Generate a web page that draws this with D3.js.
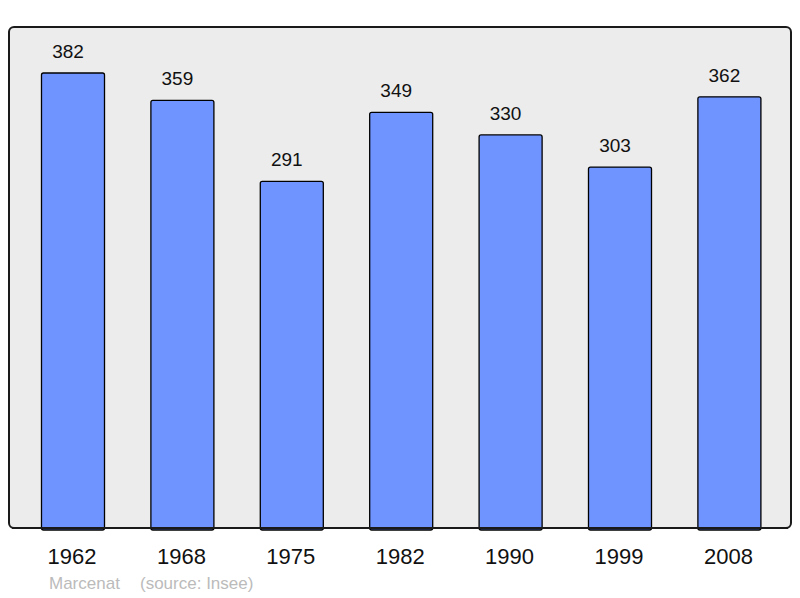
<!DOCTYPE html>
<html>
<head>
<meta charset="utf-8">
<script src="https://cdn.jsdelivr.net/npm/d3@7"></script>
<style>
  body { margin: 0; background: #fff; }
  text { font-family: "Liberation Sans", Arial, sans-serif; }
</style>
</head>
<body>
<script>
var years = ["1962", "1968", "1975", "1982", "1990", "1999", "2008"];
var population = [382, 359, 291, 349, 330, 303, 362];
var town = "Marcenat";
var source = "(source: Insee)";

var width = 800,
    height = 598;

var svg = d3.select("body").append("svg")
    .attr("width", width)
    .attr("height", height);

// panel
svg.append("rect")
    .attr("x", 9).attr("y", 27)
    .attr("width", 782).attr("height", 501)
    .attr("rx", 5)
    .attr("fill", "#ececec")
    .attr("stroke", "#1a1a1a")
    .attr("stroke-width", 2);

var x = d3.scaleBand()
    .domain(years)
    .range([18.3, 784.1])
    .paddingInner(0.424)
    .paddingOuter(0.212);

var y = d3.scaleLinear()
    .domain([0, 420.6])
    .range([528, 27]);

var data = years.map(function(d, i) { return {year: d, value: population[i]}; });

svg.append("g")
    .selectAll("rect")
    .data(data)
    .enter().append("rect")
    .attr("x", function(d) { return x(d.year); })
    .attr("y", function(d) { return y(d.value); })
    .attr("width", x.bandwidth())
    .attr("height", function(d) { return y(0) - y(d.value) + 2; })
    .attr("rx", 2)
    .attr("fill", "#7094ff")
    .attr("stroke", "#000")
    .attr("stroke-width", 1.3);

// redraw bottom border on top of bars
svg.append("line")
    .attr("x1", 12).attr("x2", 788)
    .attr("y1", 528).attr("y2", 528)
    .attr("stroke", "#1a1a1a")
    .attr("stroke-width", 2);

svg.append("g")
    .selectAll("text")
    .data(data)
    .enter().append("text")
    .attr("x", function(d) { return x(d.year) + x.bandwidth() / 2 - 5; })
    .attr("y", function(d) { return y(d.value) - 15; })
    .attr("text-anchor", "middle")
    .attr("font-size", 19)
    .attr("fill", "#111")
    .text(function(d) { return d.value; });

svg.append("g")
    .selectAll("text")
    .data(years)
    .enter().append("text")
    .attr("x", function(d) { return x(d) + x.bandwidth() / 2 - 1; })
    .attr("y", 564)
    .attr("text-anchor", "middle")
    .attr("font-size", 22)
    .attr("fill", "#111")
    .text(function(d) { return d; });

svg.append("text")
    .attr("x", 49).attr("y", 589)
    .attr("font-size", 17)
    .attr("fill", "#bbbbbb")
    .text(town);

svg.append("text")
    .attr("x", 140).attr("y", 589)
    .attr("font-size", 17)
    .attr("fill", "#bbbbbb")
    .text(source);
</script>
</body>
</html>
